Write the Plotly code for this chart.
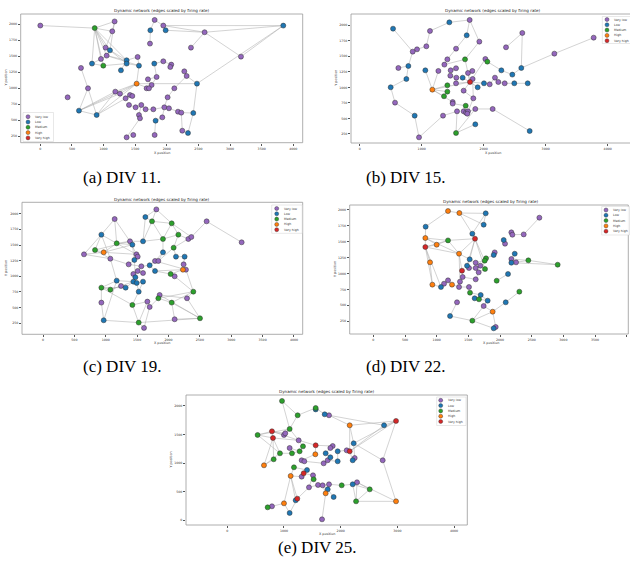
import plotly.graph_objects as go

W, H = 630, 569
CATS = ["Very low", "Low", "Medium", "High", "Very high"]
COLORS = ["#9467bd", "#1f77b4", "#2ca02c", "#ff7f0e", "#d62728"]
TITLE = "Dynamic network (edges scaled by firing rate)"

# ---------------- (a) DIV 11 ----------------
a_caption = "(a) DIV 11."
a_x = [0, 860, 1175, 1138, 1808, 1945, 1740, 1982, 1734, 3842,
       2598, 2382, 3173, 1033, 1101, 1049, 959, 817, 996, 1365,
       1365, 1539, 1560, 1275, 643, 1802, 1945, 2071, 2055, 2277,
       2314, 2477, 1523, 1702, 1839, 1760, 1681, 1718, 754, 1186,
       1260, 1418, 1455, 1349, 2119, 2013, 432, 1402, 1507, 1597,
       1665, 1787, 1961, 2034, 2177, 2229, 2419, 611, 891, 1560,
       1576, 1929, 1823, 2245, 2335, 1365, 1470, 1808]
a_y = [1980, 1940, 2045, 1890, 2068, 1980, 1906, 1906, 1697, 1979,
       1875, 1634, 1493, 1634, 1592, 1509, 1457, 1384, 1352, 1436,
       1384, 1488, 1352, 1279, 1316, 1384, 1420, 1368, 1331, 1263,
       1190, 1070, 1070, 1138, 1175, 1049, 997, 997, 997, 945,
       913, 892, 877, 840, 997, 856, 856, 736, 699, 736,
       668, 668, 699, 684, 631, 616, 610, 647, 579, 579,
       527, 542, 490, 333, 297, 229, 266, 266]
a_cat = [0, 2, 0, 0, 0, 0, 1, 1, 0, 1,
         0, 0, 0, 0, 1, 0, 0, 1, 2, 1,
         1, 0, 1, 1, 0, 1, 0, 0, 0, 0,
         0, 1, 3, 0, 0, 0, 0, 0, 0, 0,
         0, 0, 0, 0, 0, 0, 0, 0, 0, 0,
         0, 0, 0, 0, 0, 0, 1, 1, 1, 0,
         0, 0, 1, 0, 1, 0, 0, 0]
a_edges = [(1, 2), (2, 3), (2, 4), (2, 14), (2, 15), (2, 16), (2, 17), (2, 18), (2, 19), (2, 20),
           (3, 4), (3, 15), (4, 14), (14, 15), (15, 16), (16, 17), (17, 18), (18, 19), (15, 20),
           (15, 21), (16, 20), (16, 23), (19, 21), (20, 22), (21, 23), (22, 23), (20, 24), (5, 6),
           (5, 7), (6, 8), (7, 9), (8, 11), (6, 11), (10, 11), (10, 13), (10, 6), (11, 12), (11, 13),
           (10, 32), (32, 31), (31, 30), (31, 45), (45, 46), (46, 53), (32, 57), (32, 33), (33, 23),
           (33, 58), (33, 59), (33, 40), (33, 41), (33, 38), (58, 39), (58, 59), (58, 40), (58, 41),
           (59, 39), (59, 40), (59, 44), (39, 25), (42, 43), (44, 42), (48, 49), (49, 50), (50, 51),
           (51, 52), (52, 53), (53, 54), (54, 55), (55, 56), (56, 57), (57, 65), (56, 64), (60, 61),
           (61, 66), (60, 50), (62, 63), (63, 68), (62, 53), (36, 37), (37, 38), (34, 35), (26, 27),
           (27, 28), (28, 29), (26, 35), (34, 36), (35, 36)]
a_xticks = [0, 500, 1000, 1500, 2000, 2500, 3000, 3500, 4000]
a_yticks = [250, 500, 750, 1000, 1250, 1500, 1750, 2000]

# ---------------- (b) DIV 15 ----------------
b_caption = "(b) DIV 15."
b_x = [538, 1446, 1774, 1134, 1726, 1930, 2623, 3774, 2360, 3140,
       1075, 925, 855, 1554, 785, 624, 753, 500, 570, 887,
       957, 1059, 1269, 1172, 1366, 1414, 1699, 1468, 1554, 1559,
       1661, 1747, 1817, 1822, 1462, 1779, 1554, 1677, 1414, 1414,
       1903, 2005, 2097, 2027, 2059, 2285, 2182, 2236, 2339, 2494,
       2710, 2462, 2607, 1360, 1500, 1500, 1833, 1710, 1344, 1570,
       1677, 1715, 1747, 1736, 1865, 2145, 1865, 1554, 2742]
b_y = [1946, 2048, 2086, 1909, 1839, 1737, 1877, 1801, 1646, 1544,
       1662, 1613, 1576, 1624, 1345, 1313, 1136, 1002, 755, 545,
       196, 1275, 1265, 964, 1367, 1452, 1452, 1275, 1308, 1157,
       1157, 1232, 1265, 1136, 1189, 1087, 1066, 948, 1034, 932,
       1002, 1066, 1050, 1458, 1415, 1275, 1157, 1087, 1066, 1066,
       1066, 1206, 1313, 857, 765, 739, 824, 705, 545, 615,
       615, 594, 615, 577, 653, 653, 406, 266, 298]
b_cat = [1, 1, 0, 0, 1, 0, 0, 0, 0, 0,
         0, 0, 0, 0, 1, 0, 1, 1, 0, 1,
         0, 1, 0, 3, 0, 0, 2, 0, 0, 0,
         1, 0, 0, 0, 0, 4, 0, 0, 2, 2,
         1, 1, 0, 0, 2, 1, 0, 0, 0, 1,
         1, 1, 1, 2, 0, 0, 0, 2, 0, 0,
         0, 0, 0, 0, 0, 0, 1, 2, 1]
b_edges = [(1, 13), (4, 2), (2, 3), (4, 11), (11, 12), (12, 13), (13, 15), (15, 16), (15, 17),
           (17, 18), (18, 19), (19, 20), (20, 21), (3, 6), (5, 14), (14, 26), (7, 9), (7, 53),
           (8, 10), (10, 53), (53, 52), (52, 46), (44, 45), (44, 36), (45, 46), (22, 24), (24, 39),
           (24, 40), (24, 36), (24, 54), (24, 55), (24, 23), (36, 41), (36, 42), (42, 43), (43, 47),
           (47, 48), (48, 49), (49, 50), (50, 51), (36, 27), (36, 38), (36, 37), (36, 32), (36, 31),
           (27, 25), (55, 56), (56, 58), (58, 61), (59, 60), (60, 68), (68, 65), (68, 67), (59, 21),
           (65, 66), (66, 69), (64, 57), (57, 34), (65, 62), (38, 57), (29, 28), (35, 30), (6, 27),
           (5, 3)]
b_xticks = [0, 1000, 2000, 3000, 4000]
b_yticks = [250, 500, 750, 1000, 1250, 1500, 1750, 2000]

# ---------------- (c) DIV 19 ----------------
c_caption = "(c) DIV 19."
c_x = [1806, 1142, 1631, 1737, 2051, 2608, 3166, 930, 1174, 1386,
       1424, 1594, 1912, 2157, 2316, 2364, 2082, 829, 967, 653,
       1073, 1489, 1509, 1456, 1365, 1912, 2119, 2257, 1785, 1838,
       2241, 2230, 2278, 1700, 1567, 1509, 1785, 1440, 1472, 1594,
       2034, 2098, 1174, 1440, 1493, 1594, 1243, 1317, 930, 1073,
       1525, 2396, 1859, 1838, 930, 1663, 2051, 2295, 1424, 1700,
       967, 1525, 2098, 2502, 1610]
c_y = [2069, 1915, 1947, 1878, 1846, 1878, 1543, 1665, 1527, 1559,
       1505, 1559, 1596, 1665, 1596, 1628, 1457, 1420, 1383, 1351,
       1282, 1351, 1314, 1261, 1191, 1383, 1314, 1314, 1245, 1245,
       1191, 1106, 1106, 1176, 1160, 1085, 1085, 1037, 984, 1053,
       1037, 1000, 931, 915, 894, 915, 846, 819, 819, 787,
       755, 755, 702, 649, 580, 596, 580, 649, 543, 511,
       298, 261, 314, 330, 176]
c_cat = [0, 0, 1, 2, 2, 0, 0, 1, 2, 0,
         1, 1, 2, 2, 0, 0, 2, 2, 3, 0,
         0, 0, 0, 1, 0, 1, 1, 1, 0, 0,
         0, 3, 0, 1, 0, 0, 1, 0, 1, 0,
         2, 0, 1, 1, 1, 1, 0, 1, 2, 2,
         1, 2, 0, 2, 0, 0, 2, 0, 2, 0,
         1, 2, 0, 2, 0]
c_edges = [(6, 7), (6, 16), (1, 3), (1, 4), (1, 5), (3, 4), (4, 5), (4, 13), (4, 12), (5, 14),
           (5, 13), (5, 16), (3, 12), (2, 9), (2, 10), (2, 8), (8, 9), (8, 18), (8, 20), (8, 21),
           (9, 10), (9, 19), (9, 11), (18, 19), (19, 20), (18, 10), (19, 11), (20, 21), (10, 22),
           (11, 24), (12, 13), (13, 14), (14, 15), (15, 16), (16, 17), (14, 17), (13, 26), (17, 27),
           (26, 29), (26, 30), (27, 28), (28, 31), (31, 32), (32, 33), (32, 37), (32, 41), (33, 52),
           (33, 29), (21, 25), (22, 23), (23, 24), (24, 25), (25, 35), (35, 34), (34, 37), (36, 38),
           (38, 39), (39, 44), (44, 45), (45, 46), (40, 36), (35, 36), (43, 47), (47, 48), (43, 49),
           (49, 50), (50, 47), (43, 44), (48, 44), (49, 48), (49, 55), (55, 61), (61, 62), (62, 59),
           (59, 51), (51, 45), (51, 46), (61, 43), (53, 54), (54, 60), (60, 56), (56, 62), (54, 57),
           (57, 63), (57, 64), (64, 58), (58, 52), (52, 42), (42, 41), (41, 37), (63, 64), (59, 56),
           (65, 62), (65, 60), (62, 64), (53, 64), (54, 52), (57, 52), (21, 43), (24, 39), (9, 22),
           (18, 21), (10, 12), (30, 17), (29, 34), (49, 59), (50, 44), (19, 22), (53, 58)]
c_xticks = [0, 500, 1000, 1500, 2000, 2500, 3000, 3500, 4000]
c_yticks = [250, 500, 750, 1000, 1250, 1500, 1750, 2000]

# ---------------- (d) DIV 22 ----------------
d_caption = "(d) DIV 22."
d_x = [1179, 1358, 1774, 2621, 826, 1742, 1563, 1605, 821, 1179,
       1000, 821, 2179, 2195, 2374, 2058, 2079, 1353, 1916, 1900,
       1521, 1616, 1689, 1779, 1758, 1479, 1510, 1616, 1763, 1400,
       1663, 1410, 1616, 1368, 895, 2232, 2179, 2179, 2253, 2447,
       2910, 2126, 1947, 1179, 1116, 1068, 932, 1242, 1353, 1510,
       1526, 1695, 1600, 1668, 1805, 2305, 2090, 1321, 1742, 1884,
       1211, 1563, 1932, 1900]
d_y = [1979, 1948, 1943, 1875, 1734, 1765, 1624, 1545, 1556, 1519,
       1451, 1415, 1645, 1608, 1613, 1525, 1467, 1310, 1331, 1290,
       1222, 1169, 1122, 1237, 1201, 1122, 1086, 1086, 1070, 1044,
       1018, 945, 908, 872, 1175, 1310, 1227, 1169, 1175, 1206,
       1138, 992, 887, 892, 840, 788, 825, 825, 788, 788,
       699, 663, 611, 595, 574, 715, 548, 548, 490, 401,
       333, 260, 161, 140]
d_cat = [3, 3, 1, 0, 1, 1, 1, 4, 3, 2,
         3, 4, 0, 0, 0, 1, 0, 3, 0, 1,
         1, 0, 0, 2, 2, 1, 0, 0, 2, 4,
         0, 0, 0, 0, 3, 1, 0, 1, 0, 2,
         2, 1, 2, 0, 0, 1, 3, 3, 0, 0,
         2, 1, 1, 2, 1, 2, 1, 0, 0, 3,
         1, 2, 0, 1]
d_edges = [(1, 2), (1, 5), (2, 3), (2, 6), (3, 6), (2, 7), (3, 7), (7, 8), (8, 18), (8, 21),
           (8, 26), (8, 29), (5, 9), (9, 10), (9, 11), (9, 12), (10, 11), (10, 18), (12, 11),
           (12, 18), (12, 35), (12, 47), (12, 46), (35, 47), (18, 30), (18, 21), (18, 34), (47, 46),
           (46, 45), (45, 44), (44, 48), (48, 49), (49, 50), (30, 32), (32, 34), (13, 14), (14, 15),
           (15, 4), (16, 17), (19, 20), (20, 24), (24, 25), (25, 22), (22, 21), (21, 26), (26, 27),
           (27, 28), (28, 23), (23, 29), (29, 31), (31, 33), (33, 32), (36, 37), (37, 38), (38, 39),
           (39, 40), (40, 41), (38, 41), (37, 40), (42, 43), (51, 52), (52, 55), (53, 54), (55, 59),
           (59, 60), (60, 57), (57, 56), (60, 62), (62, 61), (61, 58), (60, 63), (63, 64), (62, 64),
           (55, 53), (59, 62), (10, 8), (12, 10), (9, 18), (8, 25)]
d_xticks = [0, 500, 1000, 1500, 2000, 2500, 3000, 3500, 4000]
d_yticks = [250, 500, 750, 1000, 1250, 1500, 1750, 2000]

# ---------------- (e) DIV 25 ----------------
e_caption = "(e) DIV 25."
e_x = [965, 1559, 1559, 1241, 1718, 1794, 2159, 2765, 2976, 1100,
       788, 535, 806, 1000, 1023, 1259, 2229, 1335, 1559, 1859,
       1818, 1100, 1276, 929, 1141, 1553, 1735, 1818, 1947, 2106,
       2159, 2247, 2212, 818, 647, 1312, 1359, 1700, 1771, 1947,
       2741, 1176, 1406, 1347, 1312, 1118, 1512, 1523, 1600, 1682,
       1794, 1441, 2018, 2212, 2288, 2512, 1771, 1735, 1876, 2271,
       2976, 1235, 1206, 1000, 788, 712, 1100, 1671]
e_y = [2088, 1965, 1940, 1837, 1854, 1837, 1662, 1662, 1738, 1598,
       1557, 1493, 1440, 1493, 1522, 1399, 1347, 1294, 1312, 1300,
       1265, 1265, 1207, 1172, 1172, 1155, 1172, 1102, 1207, 1224,
       1207, 1090, 1050, 1067, 962, 1050, 1032, 997, 1050, 1032,
       1050, 927, 880, 822, 764, 776, 787, 717, 618, 612,
       630, 577, 612, 630, 665, 542, 542, 472, 408, 332,
       332, 379, 350, 297, 245, 227, 128, 17]
e_cat = [2, 2, 1, 2, 1, 0, 3, 1, 4, 2,
         4, 2, 4, 0, 0, 0, 1, 2, 4, 0,
         0, 0, 2, 2, 2, 3, 1, 1, 1, 0,
         4, 0, 1, 2, 3, 0, 0, 0, 0, 1,
         0, 2, 1, 4, 0, 3, 0, 2, 0, 0,
         0, 0, 2, 1, 0, 2, 1, 3, 1, 2,
         3, 4, 1, 3, 0, 2, 1, 0]
e_edges = [(1, 4), (4, 2), (2, 5), (5, 6), (6, 7), (6, 8), (7, 17), (7, 31), (8, 9), (9, 41),
           (8, 31), (9, 31), (9, 17), (41, 61), (61, 60), (61, 55), (60, 55), (60, 54), (55, 56),
           (56, 54), (54, 53), (53, 51), (51, 50), (50, 49), (49, 52), (52, 62), (62, 63), (63, 46),
           (46, 64), (64, 65), (65, 66), (64, 67), (67, 62), (58, 57), (57, 59), (58, 68), (10, 14),
           (14, 15), (11, 13), (12, 11), (12, 13), (12, 10), (13, 24), (13, 34), (13, 35), (13, 16),
           (11, 16), (16, 19), (11, 14), (10, 16), (24, 25), (25, 23), (23, 18), (18, 16), (19, 26),
           (26, 36), (36, 37), (37, 38), (38, 39), (39, 40), (40, 29), (29, 30), (30, 31), (31, 33),
           (33, 32), (32, 17), (19, 20), (20, 21), (21, 27), (27, 28), (22, 23), (34, 35), (35, 24),
           (42, 43), (43, 44), (44, 45), (45, 46), (46, 42), (47, 48), (44, 47), (46, 62), (47, 52),
           (1, 10), (4, 10), (12, 24), (11, 15), (60, 56), (41, 17), (9, 7), (58, 50)]
e_xticks = [0, 1000, 2000, 3000, 4000]
e_yticks = [0, 500, 1000, 1500, 2000]

# ---------------- layout geometry (pixels) ----------------
PANELS = [
    dict(x=a_x, y=a_y, cat=a_cat, edges=a_edges, cap=a_caption, xt=a_xticks, yt=a_yticks,
         box=(20.7, 14, 302.7, 142.7), xr=(-310, 4149), yr=(145, 2161),
         title=(161.7, 10.7), xlab=(161.7, 152.7), ylab=(5.5, 78), capxy=(122, 178),
         leg=dict(box=(23, 112.5, 53.5, 141.5), mx=28, tx=32.5, y0=116.7, dy=5.3)),
    dict(x=b_x, y=b_y, cat=b_cat, edges=b_edges, cap=b_caption, xt=b_xticks, yt=b_yticks,
         box=(351, 14, 640, 143), xr=(-140, 4360), yr=(105, 2182),
         title=(492.5, 10.7), xlab=(492.7, 152.7), ylab=(335.7, 78), capxy=(405, 178),
         leg=dict(box=(602.3, 16.5, 645, 43.5), mx=607, tx=611.7, y0=19.5, dy=5.3)),
    dict(x=c_x, y=c_y, cat=c_cat, edges=c_edges, cap=c_caption, xt=c_xticks, yt=c_yticks,
         box=(22, 202.3, 302.7, 334.3), xr=(-335, 4139), yr=(74, 2182),
         title=(162, 199.7), xlab=(162, 343), ylab=(6, 268), capxy=(122, 366),
         leg=dict(box=(271.7, 205, 302.2, 233.3), mx=276.7, tx=281.5, y0=208.5, dy=5.3)),
    dict(x=d_x, y=d_y, cat=d_cat, edges=d_edges, cap=d_caption, xt=d_xticks, yt=d_yticks,
         box=(349.7, 205, 628.3, 334), xr=(-373, 4025), yr=(51, 2074),
         title=(491, 201.7), xlab=(491, 343.3), ylab=(335, 269), capxy=(405, 366),
         leg=dict(box=(601.7, 206.5, 629.5, 235), mx=606, tx=610.7, y0=210, dy=5.3)),
    dict(x=e_x, y=e_y, cat=e_cat, edges=e_edges, cap=e_caption, xt=e_xticks, yt=e_yticks,
         box=(186, 395, 467.3, 525), xr=(-728, 4233), yr=(-82, 2192),
         title=(326.7, 391), xlab=(326.7, 534), ylab=(170.5, 460), capxy=(317, 547),
         leg=dict(box=(436.7, 397, 466, 425.5), mx=440.7, tx=445.5, y0=400.3, dy=5.3)),
]


def PX(v):
    return v / W


def PY(v):
    return 1 - v / H


SMALL = "DejaVu Sans"
fig = go.Figure()
shapes = []
annotations = []
layout_axes = {}

for i, p in enumerate(PANELS):
    n = "" if i == 0 else str(i + 1)
    xa, ya = "x" + n, "y" + n
    l, t, r, b = p["box"]
    # edges
    ex, ey = [], []
    for (u, v) in p["edges"]:
        ex += [p["x"][u - 1], p["x"][v - 1], None]
        ey += [p["y"][u - 1], p["y"][v - 1], None]
    fig.add_trace(go.Scatter(x=ex, y=ey, mode="lines", xaxis=xa, yaxis=ya,
                             line=dict(color="rgba(170,170,170,0.75)", width=0.7),
                             hoverinfo="skip", showlegend=False))
    # nodes per category
    for k, cname in enumerate(CATS):
        xs = [xx for xx, cc in zip(p["x"], p["cat"]) if cc == k]
        ys = [yy for yy, cc in zip(p["y"], p["cat"]) if cc == k]
        fig.add_trace(go.Scatter(x=xs, y=ys, mode="markers", xaxis=xa, yaxis=ya, name=cname,
                                 marker=dict(size=5, color=COLORS[k],
                                             line=dict(color="#333333", width=0.5)),
                                 showlegend=False, cliponaxis=False))
    common = dict(showgrid=False, zeroline=False, showline=False, ticks="outside",
                  ticklen=2, tickwidth=0.5, tickcolor="#555",
                  tickfont=dict(family=SMALL, size=3.2, color="#333"))
    layout_axes["xaxis" + n] = dict(domain=[PX(l), min(PX(r), 1.0)], range=list(p["xr"]),
                                    anchor=ya, tickvals=p["xt"], **common)
    layout_axes["yaxis" + n] = dict(domain=[PY(b), PY(t)], range=list(p["yr"]),
                                    anchor=xa, tickvals=p["yt"], **common)
    # spines
    shapes.append(dict(type="rect", xref="paper", yref="paper", x0=PX(l), x1=PX(r),
                       y0=PY(b), y1=PY(t), line=dict(color="#999", width=0.8),
                       fillcolor="rgba(0,0,0,0)", layer="above"))
    # title, axis labels, caption
    annotations.append(dict(text=TITLE, x=PX(p["title"][0]), y=PY(p["title"][1]),
                            xref="paper", yref="paper", showarrow=False,
                            xanchor="center", yanchor="middle",
                            font=dict(family=SMALL, size=4.1, color="#222")))
    annotations.append(dict(text="X position", x=PX(p["xlab"][0]), y=PY(p["xlab"][1]),
                            xref="paper", yref="paper", showarrow=False,
                            xanchor="center", yanchor="middle",
                            font=dict(family=SMALL, size=3.3, color="#333")))
    annotations.append(dict(text="Y position", x=PX(p["ylab"][0]), y=PY(p["ylab"][1]),
                            xref="paper", yref="paper", showarrow=False, textangle=-90,
                            xanchor="center", yanchor="middle",
                            font=dict(family=SMALL, size=3.3, color="#333")))
    annotations.append(dict(text=p["cap"], x=PX(p["capxy"][0]), y=PY(p["capxy"][1]),
                            xref="paper", yref="paper", showarrow=False,
                            xanchor="center", yanchor="middle",
                            font=dict(family="Liberation Serif", size=17, color="black")))
    # legend
    lg = p["leg"]
    bl, bt, br, bb = lg["box"]
    shapes.append(dict(type="rect", xref="paper", yref="paper", x0=PX(bl), x1=PX(br),
                       y0=PY(bb), y1=PY(bt), line=dict(color="#d0d0d0", width=0.5),
                       fillcolor="rgba(255,255,255,0.85)", layer="above"))
    rr = 2.0
    for k, cname in enumerate(CATS):
        cy = lg["y0"] + k * lg["dy"]
        shapes.append(dict(type="circle", xref="paper", yref="paper",
                           x0=PX(lg["mx"] - rr), x1=PX(lg["mx"] + rr),
                           y0=PY(cy + rr), y1=PY(cy - rr),
                           fillcolor=COLORS[k], line=dict(color="#333", width=0.4),
                           layer="above"))
        annotations.append(dict(text=cname, x=PX(lg["tx"]), y=PY(cy),
                                xref="paper", yref="paper", showarrow=False,
                                xanchor="left", yanchor="middle",
                                font=dict(family=SMALL, size=3.1, color="#333")))

fig.update_layout(width=W, height=H, margin=dict(l=0, r=0, t=0, b=0, autoexpand=False),
                  paper_bgcolor="white", plot_bgcolor="white", showlegend=False,
                  shapes=shapes, annotations=annotations, **layout_axes)

fig.write_html("out.html")
